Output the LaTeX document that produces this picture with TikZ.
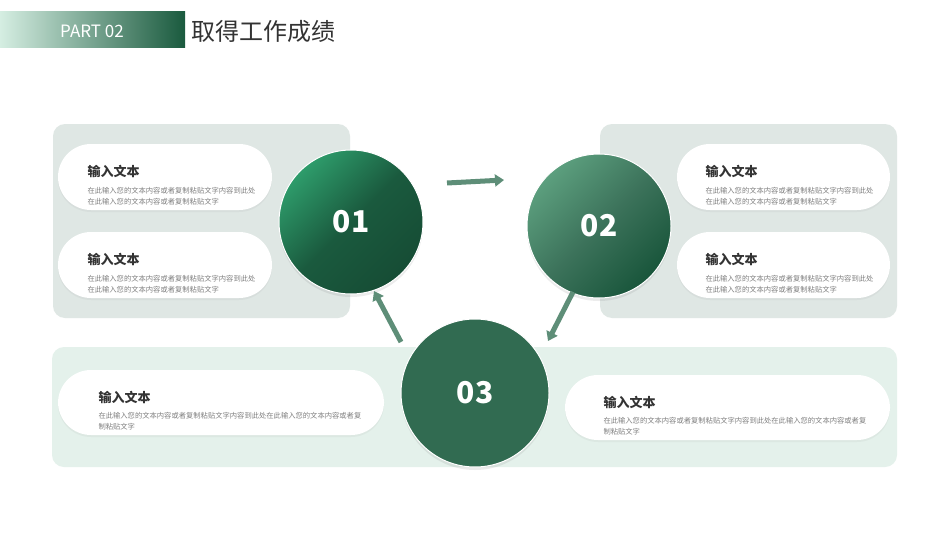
\documentclass[tikz,border=0pt]{standalone}
\usepackage{fontspec}
\setmainfont{Noto Sans CJK SC}
\usetikzlibrary{arrows.meta,positioning,shadows,calc}
\definecolor{darkg}{HTML}{1A5A3E}
\definecolor{mint}{HTML}{D5EEE2}
\definecolor{panelg}{HTML}{DFE7E4}
\definecolor{panelm}{HTML}{E4F1EB}
\definecolor{arrowg}{HTML}{5E8E78}
\definecolor{txtg}{HTML}{333333}
\definecolor{lightg1}{HTML}{2E9C6B}
\definecolor{lightg2}{HTML}{5C9F7E}
\tikzset{
  panel/.style={rounded corners=12pt, draw=none},
  pill/.style={draw=none, fill=white, rounded corners=33pt, drop shadow={opacity=0.08, shadow xshift=0pt, shadow yshift=-2pt}},
  ptitle/.style={anchor=west, font=\fontsize{13}{13}\selectfont\bfseries, text=txtg},
  pbody/.style={anchor=north west, align=left, font=\fontsize{7.3}{11}\selectfont, text=gray},
  num/.style={circle, minimum size=144pt, draw=white, line width=1pt, text=white, font=\fontsize{30}{30}\selectfont\bfseries, drop shadow={opacity=0.15, shadow xshift=0pt, shadow yshift=-3pt}},
  flow/.style={-{Triangle[length=9pt,width=12pt]}, line width=5pt, arrowg}
}
\begin{document}
\begin{tikzpicture}[x=1pt, y=-1pt]
  \useasboundingbox[fill=white] (0,0) rectangle (950,535);
  % header
  \shade[left color=mint, right color=darkg] (0,12) rectangle (185,48);
  \node[text=white, font=\fontsize{17}{17}\selectfont] (part) at (92,31) {PART 02};
  \node[anchor=west, text=txtg, font=\fontsize{24}{24}\selectfont] (title) at (188,31) {取得工作成绩};

  % panels
  \fill[panel, panelg] (53,124) rectangle (350,318);
  \fill[panel, panelg] (600,124) rectangle (897,318);
  \fill[panel, panelm] (52,347) rectangle (897,467);

  % left cards
  \foreach \y in {144,232} {
    \fill[pill] (58,\y) rectangle (272,\y+66);
    \node[ptitle] at (84,\y+27) {输入文本};
    \node[pbody] at (84,\y+40) {在此输入您的文本内容或者复制粘贴文字内容到此处\\在此输入您的文本内容或者复制粘贴文字};
  }
  % right cards
  \foreach \y in {144,232} {
    \fill[pill] (677,\y) rectangle (890,\y+66);
    \node[ptitle] at (702,\y+27) {输入文本};
    \node[pbody] at (702,\y+40) {在此输入您的文本内容或者复制粘贴文字内容到此处\\在此输入您的文本内容或者复制粘贴文字};
  }
  % bottom cards
  \fill[pill] (58,370) rectangle (384,435);
  \node[ptitle] at (95,397) {输入文本};
  \node[pbody] at (95,409) {在此输入您的文本内容或者复制粘贴文字内容到此处在此输入您的文本内容或者复\\制粘贴文字};
  \fill[pill] (565,375) rectangle (890,440);
  \node[ptitle] at (600,402) {输入文本};
  \node[pbody] at (600,414) {在此输入您的文本内容或者复制粘贴文字内容到此处在此输入您的文本内容或者复\\制粘贴文字};

  % circles
  \node[num, top color=lightg1, bottom color=darkg!85!black, middle color=darkg, shading angle=45] (c1) at (351,222) {01};
  \node[num, top color=lightg2, bottom color=darkg!95!black, middle color=darkg!85!white, shading angle=45] (c2) at (599,226) {02};
  \node[num, fill=darkg!90!white, minimum size=148pt] (c3) at (475,393) {03};

  % arrows
  \coordinate (a1) at (447,183);
  \coordinate (b1) at (504,180);
  \coordinate (a2) at (573,292);
  \coordinate (b2) at (548,341);
  \coordinate (a3) at (401,342);
  \coordinate (b3) at (374,291);
  \draw[flow] (a1) -- (b1);
  \draw[flow] (a2) -- (b2);
  \draw[flow] (a3) -- (b3);
\end{tikzpicture}
\end{document}
